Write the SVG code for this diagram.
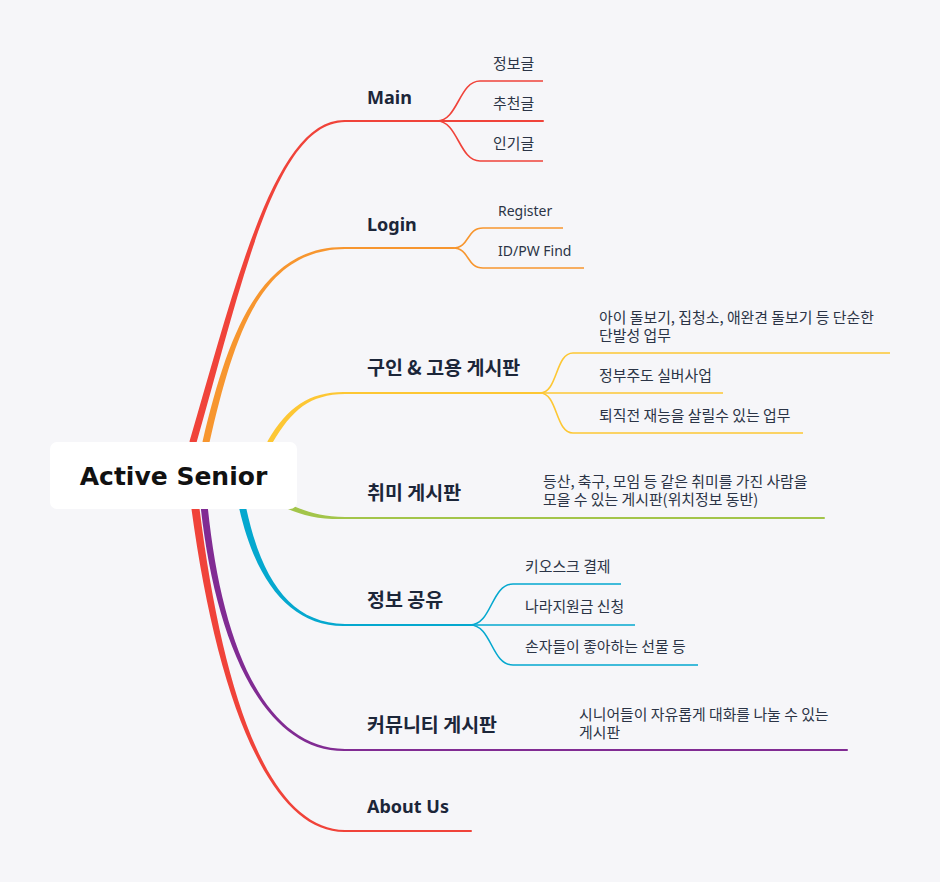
<svg xmlns="http://www.w3.org/2000/svg" width="940" height="882" viewBox="0 0 940 882">
<style>
.bg{fill:#f6f6f9}
.t{font-family:"Noto Sans","Noto Sans CJK KR",sans-serif;font-weight:700;font-size:18px;fill:#1c2639}
.tk{font-family:"Noto Sans CJK KR","Noto Sans",sans-serif;font-weight:700;font-size:19.5px;fill:#1c2639}
.c{font-family:"Noto Sans","Noto Sans CJK KR",sans-serif;font-size:14px;fill:#2b3446}
.ck{font-family:"Noto Sans CJK KR","Noto Sans",sans-serif;font-size:14.9px;fill:#2b3446}
.r{font-family:"DejaVu Sans","Noto Sans",sans-serif;font-weight:700;font-size:25px;fill:#111}
.l{fill:none;stroke-width:2;stroke-linecap:round}
.s{fill:none;stroke-width:1.6}
</style>
<rect class="bg" x="0" y="0" width="940" height="882"/>
<g id="connectors">
  <!-- Main -->
  <path d="M189.6,446 L189.6,441 C237.1,279.2 275,119 345,120 L345,122 C275,123 242.9,280.8 196.4,443 L196.4,446 Z" fill="#f0433a"/>
  <path class="l" stroke="#f0433a" d="M345,121 L543,121"/>
  <path class="s" stroke="#f0433a" d="M437,121 C458,121 459,81 480,81 L543,81"/>
  <path class="s" stroke="#f0433a" d="M437,121 C458,121 459,161 480,161 L543,161"/>
  <!-- Login -->
  <path d="M202.6,446 L202.6,441.2 C229,329.3 262,246 345,247 L345,249 C262,250 235,330.7 209.4,442.8 L209.4,446 Z" fill="#f7962f"/>
  <path class="l" stroke="#f7962f" d="M345,248 L453,248"/>
  <path class="s" stroke="#f7962f" d="M453,248 C470,248 466,228 483,228 L563,228"/>
  <path class="s" stroke="#f7962f" d="M453,248 C470,248 466,268 483,268 L584,268"/>
  <!-- Job -->
  <path d="M266,446 L267.8,440.7 C287.8,406.7 310,391.5 345,392 L345,394 C310,394.5 292.2,409.3 272.2,443.3 L271,446 Z" fill="#fdc734"/>
  <path class="l" stroke="#fdc734" d="M345,393 L540,393"/>
  <path class="s" stroke="#fdc734" d="M540,393 C558,393 555,353 573,353 L890,353"/>
  <path class="s" stroke="#fdc734" d="M540,393 L723,393"/>
  <path class="s" stroke="#fdc734" d="M540,393 C558,393 555,433 573,433 L803,433"/>
  <!-- Hobby -->
  <path d="M286,502.7 C306,511.7 320,516.5 345,517 L345,519 C320,519.5 304,516.3 284,507.3 Z" fill="#a3c54a"/>
  <path class="l" stroke="#a3c54a" d="M345,518 L824,518"/>
  <!-- Info -->
  <path d="M238.6,505.7 C255,580.6 290,627 345,626 L345,624 C290,623 261,579.4 245.4,504.3 Z" fill="#05a8cf"/>
  <path class="l" stroke="#05a8cf" d="M345,625 L470,625"/>
  <path class="s" stroke="#05a8cf" d="M470,625 C492,625 491,584 513,584 L621,584"/>
  <path class="s" stroke="#05a8cf" d="M470,625 L635,625"/>
  <path class="s" stroke="#05a8cf" d="M470,625 C492,625 491,665 513,665 L698,665"/>
  <!-- Community -->
  <path d="M200.5,505.3 C215,640.3 262,752 345,751 L345,749 C262,748 221,639.7 207.5,504.7 Z" fill="#812b93"/>
  <path class="l" stroke="#812b93" d="M345,750 L847,750"/>
  <!-- About -->
  <path d="M191,505.5 C217,700.4 270,833 345,832 L345,830 C270,829 223,699.6 199,504.5 Z" fill="#f0433a"/>
  <path class="l" stroke="#f0433a" d="M345,831 L471,831"/>
</g>
<g id="root">
  <rect x="50" y="442" width="247" height="67" rx="7" fill="#ffffff"/>
  <text class="r" x="173.5" y="485" text-anchor="middle">Active Senior</text>
</g>
<g id="main">
  <text class="t" x="367" y="104">Main</text>
  <text class="ck" x="493" y="69">정보글</text>
  <text class="ck" x="493" y="109">추천글</text>
  <text class="ck" x="493" y="149">인기글</text>
</g>
<g id="login">
  <text class="t" x="367" y="231">Login</text>
  <text class="c" x="498" y="216">Register</text>
  <text class="c" x="498" y="256">ID/PW Find</text>
</g>
<g id="job">
  <text class="tk" x="367" y="375">구인 &amp; 고용 게시판</text>
  <text class="ck" x="599" y="323">아이 돌보기, 집청소, 애완견 돌보기 등 단순한<tspan x="599" dy="18">단발성 업무</tspan></text>
  <text class="ck" x="599" y="381">정부주도 실버사업</text>
  <text class="ck" x="599" y="421">퇴직전 재능을 살릴수 있는 업무</text>
</g>
<g id="hobby">
  <text class="tk" x="367" y="500">취미 게시판</text>
  <text class="ck" x="543" y="487">등산, 축구, 모임 등 같은 취미를 가진 사람을<tspan x="543" dy="18">모을 수 있는 게시판(위치정보 동반)</tspan></text>
</g>
<g id="info">
  <text class="tk" x="367" y="607">정보 공유</text>
  <text class="ck" x="525" y="572">키오스크 결제</text>
  <text class="ck" x="525" y="612">나라지원금 신청</text>
  <text class="ck" x="525" y="652">손자들이 좋아하는 선물 등</text>
</g>
<g id="community">
  <text class="tk" x="367" y="732">커뮤니티 게시판</text>
  <text class="ck" x="579" y="720">시니어들이 자유롭게 대화를 나눌 수 있는<tspan x="579" dy="18">게시판</tspan></text>
</g>
<g id="about">
  <text class="t" x="367" y="813">About Us</text>
</g>
</svg>
